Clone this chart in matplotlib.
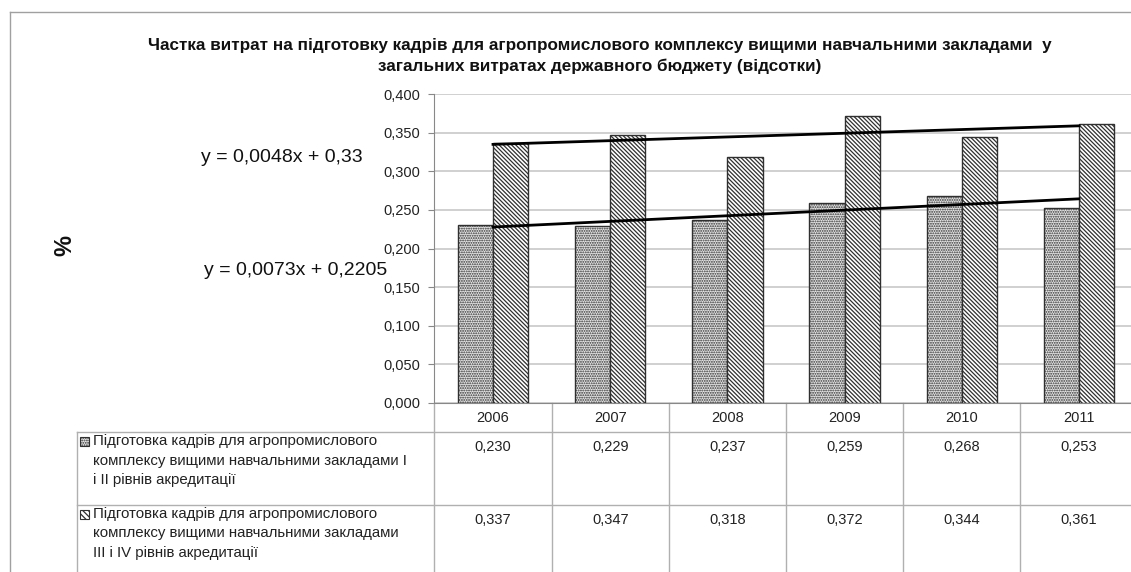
import numpy as np
import matplotlib
matplotlib.use("Agg")
import matplotlib.pyplot as plt
from matplotlib.lines import Line2D
from matplotlib.patches import Rectangle

# data
years = ['2006', '2007', '2008', '2009', '2010', '2011']
level12 = [0.230, 0.229, 0.237, 0.259, 0.268, 0.253]
level34 = [0.337, 0.347, 0.318, 0.372, 0.344, 0.361]
trend12 = (0.0073, 0.2205)
trend34 = (0.0048, 0.33)
row_names = [
    'Підготовка кадрів для агропромислового\nкомплексу вищими навчальними закладами I\nі II рівнів акредитації',
    'Підготовка кадрів для агропромислового\nкомплексу вищими навчальними закладами\nIII і IV рівнів акредитації',
]
title = ('Частка витрат на підготовку кадрів для агропромислового комплексу вищими навчальними закладами  у\n'
         'загальних витратах державного бюджету (відсотки)')

W, H = 1131, 572
plt.rcParams['font.family'] = ['Liberation Sans', 'DejaVu Sans']
fig = plt.figure(figsize=(W / 100, H / 100), dpi=100)

def fx(px):
    return px / W

def fy(py):
    return 1 - py / H

def comma(v, d=3):
    return f"{v:.{d}f}".replace('.', ',')

# plot area: 0 at y=403, 0.4 at y=94, categories 117 px wide starting at x=434
ax = fig.add_axes([fx(434.4), fy(403), 703.2 / W, 309 / H])
x = np.arange(len(years))
dark = '#303030'
dots = '.' * 7
lines = '\\' * 8
plt.rcParams['hatch.linewidth'] = 0.9
ax.bar(x - 0.15, level12, 0.3, facecolor='#e4e4e4', edgecolor=dark, hatch=dots, lw=1, zorder=3)
ax.bar(x + 0.15, level34, 0.3, facecolor='white', edgecolor=dark, hatch=lines, lw=1, zorder=3)

for (a, b) in (trend12, trend34):
    ax.plot(x, a * (x + 1) + b, color='black', lw=2, zorder=4)

ax.set_xlim(-0.5, len(years) - 0.5)
ax.set_ylim(0, 0.4)
yt = np.arange(0, 0.401, 0.05)
ax.set_yticks(yt)
ax.set_yticklabels([comma(v) for v in yt], fontsize=10.5, color='#222222')
ax.yaxis.grid(True, color='#c8c8c8', lw=1.2, zorder=0)
ax.tick_params(axis='y', length=4, color='#888888', pad=6)
ax.set_xticks(x)
ax.set_xticklabels(years, fontsize=10.5, color='#222222')
ax.tick_params(axis='x', length=0, pad=6)
for s in ('top', 'right'):
    ax.spines[s].set_visible(False)
ax.spines['left'].set_color('#888888')
ax.spines['bottom'].set_color('#888888')

# data table below the plot
tr = ax.get_xaxis_transform()
grid_c = '#b0b0b0'
bottom_frac = (403 - 572) / 309
for b in np.arange(-0.5, len(years), 1.0):
    ax.plot([b, b], [0, bottom_frac], transform=tr, color=grid_c, lw=1, clip_on=False)
for py in (432, 505):
    fig.add_artist(Line2D([fx(77), 1], [fy(py), fy(py)], color=grid_c, lw=1))
fig.add_artist(Line2D([fx(77), fx(77)], [fy(432), 0], color=grid_c, lw=1))

row_tops = [432, 505]
for k, (vals, nm) in enumerate(zip((level12, level34), row_names)):
    top = row_tops[k]
    for i, v in enumerate(vals):
        ax.text(i, (403 - (top + 15)) / 309, comma(v), transform=tr, ha='center', va='center',
                fontsize=10.5, color='#222222')
    fig.text(fx(93), fy(top + 2), nm, ha='left', va='top', fontsize=10.8, color='#222222',
             linespacing=1.5)
    hatch = dots if k == 0 else '\\' * 6
    fc = '#e4e4e4' if k == 0 else 'white'
    fig.add_artist(Rectangle((fx(80), fy(top + 14)), 9 / W, 9 / H, facecolor=fc, edgecolor=dark,
                             hatch=hatch, lw=0.8))

# trend equations
fig.text(fx(282), fy(158), 'y = ' + comma(trend34[0], 4) + 'x + ' + comma(trend34[1], 2),
         ha='center', va='center', fontsize=14, color='#111111')
fig.text(fx(296), fy(270), 'y = ' + comma(trend12[0], 4) + 'x + ' + comma(trend12[1], 4),
         ha='center', va='center', fontsize=14, color='#111111')

fig.text(fx(65), fy(245), '%', rotation=90, ha='center', va='center', fontsize=17,
         fontweight='bold', color='#111111')

fig.text(fx(600), fy(56), title, ha='center', va='center', fontsize=12.3, fontweight='bold',
         linespacing=1.45, color='#111111')

# chart border
fig.add_artist(Line2D([fx(10), 1], [fy(12), fy(12)], color='#a0a0a0', lw=1))
fig.add_artist(Line2D([fx(10), fx(10)], [fy(12), 0], color='#a0a0a0', lw=1))

fig.savefig('out.png', dpi=100)
